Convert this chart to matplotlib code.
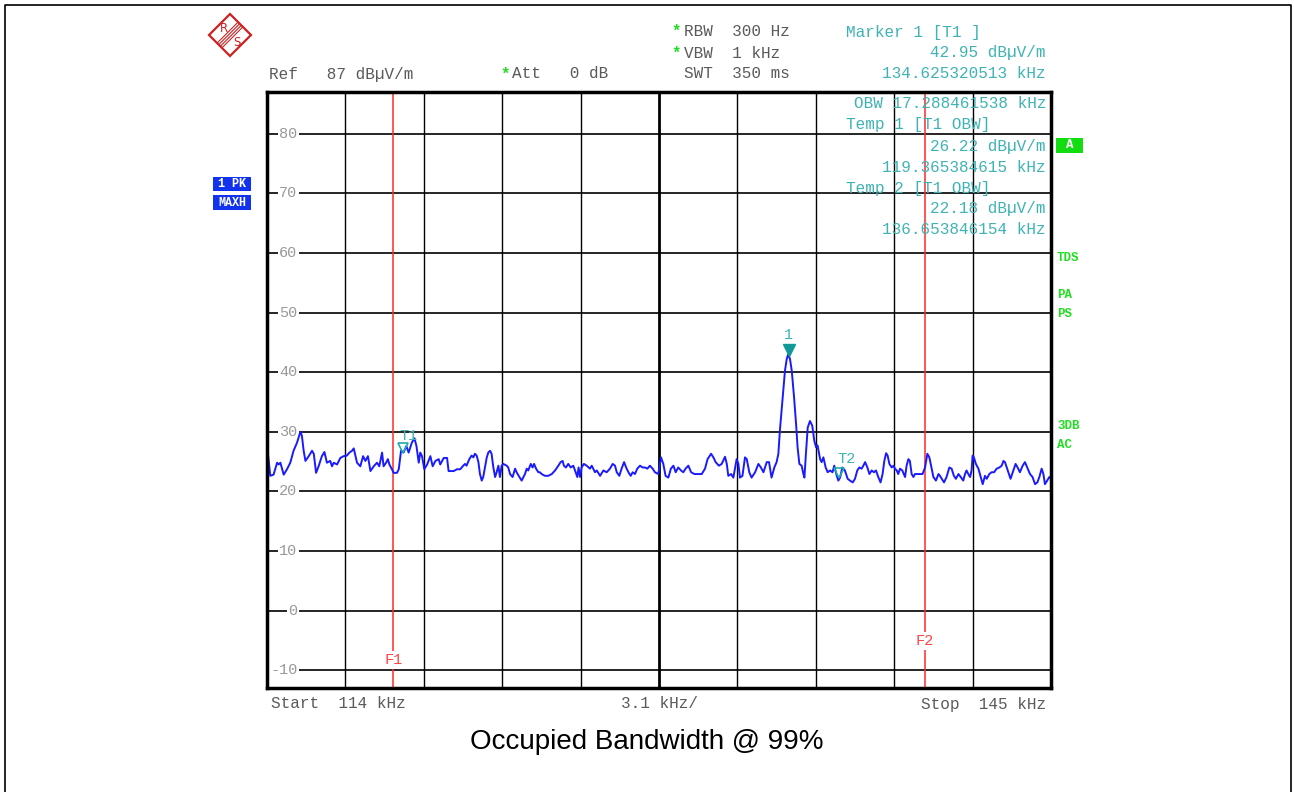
import numpy as np
import matplotlib
matplotlib.use("Agg")
import matplotlib.pyplot as plt
from matplotlib.patches import Polygon, Rectangle
from matplotlib.lines import Line2D

# sweep settings
f_start = 114.0
f_stop = 145.0
ref_level = 87.0
y_bottom = -13.0
y_ticks = [80, 70, 60, 50, 40, 30, 20, 10, 0, -10]

# trace (kHz, dBuV/m)
trace_freq = [
    114.04, 114.13, 114.26, 114.40, 114.46, 114.53, 114.66, 114.79, 114.92, 115.05,
    115.19, 115.32, 115.38, 115.45, 115.52, 115.65, 115.78, 115.85, 115.94, 116.04,
    116.17, 116.27, 116.37, 116.50, 116.57, 116.64, 116.77, 116.90, 117.03, 117.16,
    117.26, 117.36, 117.43, 117.56, 117.69, 117.80, 117.89, 117.99, 118.09, 118.22,
    118.35, 118.44, 118.55, 118.61, 118.71, 118.78, 118.84, 118.94, 119.01, 119.14,
    119.21, 119.30, 119.40, 119.51, 119.60, 119.73, 119.83, 119.91, 120.00, 120.06,
    120.13, 120.22, 120.33, 120.46, 120.55, 120.66, 120.79, 120.85, 120.99, 121.12,
    121.18, 121.38, 121.51, 121.64,
    121.76, 121.83, 121.89, 122.00, 122.09, 122.16, 122.22, 122.29, 122.36, 122.42,
    122.49, 122.55, 122.62, 122.69, 122.75, 122.82, 122.88, 122.95, 123.02, 123.08,
    123.15, 123.21, 123.28, 123.34, 123.48, 123.54, 123.61, 123.71, 123.81, 123.87,
    123.98, 124.07, 124.20, 124.27, 124.33, 124.43, 124.50, 124.56, 124.64, 124.73,
    124.79, 124.86, 124.99, 125.12, 125.26, 125.39, 125.52, 125.61, 125.69, 125.74,
    125.82, 125.91, 126.01, 126.11, 126.18, 126.27, 126.32, 126.38, 126.44, 126.53,
    126.64, 126.77, 126.84, 126.97, 127.04, 127.17, 127.30, 127.43, 127.56, 127.67,
    127.76, 127.83, 127.93, 128.02, 128.12, 128.20, 128.29, 128.38, 128.46, 128.55,
    128.64, 128.75, 128.85, 128.95, 129.04, 129.14, 129.25,
    129.34, 129.47, 129.58, 129.67, 129.76, 129.87, 129.97, 130.07, 130.16, 130.26,
    130.37, 130.46, 130.55, 130.66, 130.77, 130.90, 131.06, 131.19, 131.32, 131.42,
    131.56, 131.65, 131.74, 131.87, 131.98, 132.11, 132.18, 132.24, 132.35, 132.44,
    132.51, 132.57, 132.64, 132.70, 132.80, 132.90, 132.97, 133.07, 133.16, 133.30,
    133.43, 133.53, 133.63, 133.76, 133.85, 133.95, 134.06, 134.15, 134.22, 134.28,
    134.38, 134.48, 134.55, 134.61, 134.68, 134.75, 134.84, 134.92, 134.98, 135.05,
    135.14, 135.21, 135.25, 135.30, 135.38, 135.47, 135.56, 135.64, 135.71, 135.77,
    135.87, 135.93, 136.00, 136.09, 136.17, 136.26, 136.36, 136.43, 136.53, 136.59,
    136.66, 136.75, 136.85, 136.96,
    137.05, 137.16, 137.25, 137.34, 137.42, 137.51, 137.58, 137.65, 137.74, 137.82,
    137.91, 138.00, 138.08, 138.17, 138.26, 138.34, 138.41, 138.48, 138.54, 138.61,
    138.70, 138.77, 138.83, 138.90, 138.96, 139.03, 139.12, 139.23, 139.29, 139.36,
    139.42, 139.49, 139.56, 139.62, 139.71, 139.82, 139.92, 140.02, 140.11, 140.19,
    140.28, 140.35, 140.45, 140.55, 140.61, 140.68, 140.77, 140.87, 140.98, 141.07,
    141.16, 141.24, 141.34, 141.43, 141.53, 141.60, 141.66, 141.73, 141.80, 141.86,
    141.90, 141.95, 142.03, 142.13, 142.22, 142.30, 142.39, 142.46, 142.56, 142.65,
    142.75, 142.85, 142.96, 143.05, 143.12, 143.18, 143.25, 143.31, 143.40, 143.51,
    143.60, 143.68, 143.77, 143.88, 143.97, 144.06, 144.17, 144.27, 144.37, 144.46,
    144.54, 144.63, 144.70, 144.76, 144.85, 144.93, 145.00,
]
trace_level = [
    26.2, 22.6, 22.8, 24.8, 24.5, 24.8, 22.8, 23.7, 24.8, 26.8,
    28.2, 30.0, 29.3, 26.8, 25.1, 25.9, 26.8, 26.3, 23.1, 24.2,
    25.9, 26.6, 24.8, 25.1, 24.2, 24.8, 24.5, 25.6, 25.9, 26.0,
    26.5, 26.8, 27.2, 24.8, 24.2, 25.9, 25.1, 25.9, 23.4, 24.2,
    24.8, 24.2, 26.5, 24.2, 24.8, 25.4, 24.5, 23.7, 23.1, 23.1,
    23.7, 26.8, 26.5, 27.6, 26.5, 28.2, 28.9, 27.6, 24.8, 26.5,
    25.9, 23.7, 24.5, 25.9, 24.2, 25.1, 25.4, 24.5, 25.6, 25.6,
    23.4, 23.4, 23.7, 23.7,
    24.3, 24.6, 24.3, 25.4, 26.0, 25.7, 26.3, 26.0, 24.9, 22.9,
    21.8, 22.4, 24.0, 25.7, 26.5, 26.8, 26.3, 24.0, 22.4, 23.2,
    24.3, 22.4, 24.3, 24.6, 24.3, 24.0, 22.9, 22.4, 23.8, 23.2,
    22.4, 21.8, 22.9, 23.8, 23.5, 24.6, 24.0, 24.6, 23.8, 23.2,
    23.2, 22.9, 22.6, 22.6, 22.9, 23.5, 24.3, 24.9, 25.1, 24.3,
    24.0, 24.6, 24.0, 24.3, 23.5, 22.4, 24.0, 22.4, 24.0, 24.6,
    24.3, 23.8, 24.3, 23.2, 23.5, 22.6, 23.5, 23.2, 23.8, 24.6,
    24.3, 23.2, 22.6, 23.8, 24.9, 24.0, 23.2, 22.6, 23.2, 22.9,
    23.8, 24.3, 24.0, 24.0, 23.8, 24.3, 23.8,
    23.2, 22.9, 25.7, 24.6, 22.6, 22.3, 23.8, 24.3, 23.2, 24.0,
    23.5, 23.2, 23.8, 24.3, 23.2, 22.9, 22.9, 22.9, 23.8, 25.4,
    26.3, 25.7, 24.9, 24.3, 24.6, 25.8, 24.6, 22.6, 22.9, 22.3,
    24.0, 25.4, 24.6, 22.3, 22.6, 25.7, 25.4, 23.2, 22.3, 23.2,
    24.6, 24.0, 23.2, 24.9, 24.9, 22.3, 24.0, 24.9, 26.3, 30.2,
    35.2, 40.2, 42.2, 43.0, 42.2, 40.2, 35.8, 31.3, 27.4, 24.6,
    24.3, 22.9, 22.3, 25.7, 30.7, 31.8, 31.0, 28.5, 27.4, 27.7,
    25.4, 24.9, 25.7, 24.0, 23.2, 23.5, 23.2, 24.3, 22.6, 21.8,
    22.3, 24.0, 23.5, 22.1,
    21.8, 21.5, 22.1, 23.5, 24.0, 23.8, 24.3, 24.9, 24.0, 22.9,
    23.5, 23.2, 23.5, 22.4, 21.5, 22.9, 25.1, 26.4, 26.0, 24.6,
    24.0, 24.3, 23.8, 23.5, 22.9, 23.8, 23.5, 22.4, 24.3, 25.4,
    25.1, 22.9, 22.4, 22.9, 22.9, 22.9, 22.9, 24.0, 26.3, 25.7,
    23.8, 22.4, 21.8, 22.9, 22.6, 22.1, 21.5, 22.4, 24.0, 23.8,
    22.6, 22.1, 22.9, 22.4, 21.8, 22.9, 23.5, 22.9, 22.4, 23.5,
    26.0, 25.7, 24.6, 23.8, 22.4, 21.2, 22.6, 22.1, 22.9, 23.2,
    23.2, 23.8, 24.0, 24.3, 25.1, 24.9, 24.0, 23.2, 22.1, 23.5,
    24.6, 24.0, 23.2, 24.3, 24.9, 24.0, 22.9, 22.4, 21.2, 21.5,
    22.4, 23.8, 22.9, 21.2, 21.8, 22.4, 22.1,
]

# markers and OBW lines
m1_freq, m1_level = 134.625320513, 42.95
t1_freq, t1_level = 119.365384615, 26.22
t2_freq, t2_level = 136.653846154, 22.18
f1_freq = 119.0
f2_freq = 140.0

W, H = 1294, 792
MONO = "Liberation Mono"
GRAY = "#5a5a5a"
TEAL = "#3fb3b3"
GREEN = "#22dd22"
RED = "#ff2a2a"
LOGO = "#cc2222"


def fx(px):
    return px / W


def fy(py):
    return 1 - py / H


fig = plt.figure(figsize=(W / 100, H / 100), dpi=100)
ax = fig.add_axes([fx(267), fy(688), fx(1051) - fx(267), fy(92) - fy(688)])
ax.set_xlim(f_start, f_stop)
ax.set_ylim(y_bottom, ref_level)

# graticule
span = f_stop - f_start
for i in range(1, 10):
    ax.axvline(f_start + span * i / 10, color="black", lw=2.0 if i == 5 else 1.0, zorder=1)
for v in y_ticks:
    ax.axhline(v, color="black", lw=1.2, zorder=1)
    ax.text(0.039, v, str(v), transform=ax.get_yaxis_transform(), ha="right", va="center",
            fontsize=11, family=MONO, color="#999999", zorder=2,
            bbox=dict(facecolor="white", edgecolor="none", pad=1.0))
ax.set_xticks([])
ax.set_yticks([])
for s in ax.spines.values():
    s.set_linewidth(2.5)
    s.set_zorder(10)

# OBW limit lines
for f, lab, lv in [(f1_freq, "F1", -8.3), (f2_freq, "F2", -5.1)]:
    ax.axvline(f, color=RED, lw=1.1, zorder=3)
    ax.text(f, lv, lab, ha="center", va="center", fontsize=11, family=MONO, color="#ff4444",
            zorder=4, bbox=dict(facecolor="white", edgecolor="none", pad=1.5))

# trace
ax.plot(trace_freq, trace_level, color="#1a1aff", lw=1.4, zorder=5)

# markers
ax.plot([m1_freq], [m1_level + 0.8], marker="v", ms=8, color="#119999", zorder=6)
ax.text(m1_freq, m1_level + 3.2, "1", ha="center", va="center", fontsize=11,
        family=MONO, color=TEAL, zorder=6)
ax.plot([t1_freq], [t1_level + 1.0], marker="v", ms=7, mfc="none", mec="#22aaaa", mew=1.2, zorder=6)
ax.text(t1_freq + 0.22, t1_level + 3.1, "T1", ha="center", va="center", fontsize=11,
        family=MONO, color=TEAL, zorder=6)
ax.plot([t2_freq - 0.05], [t2_level + 0.9], marker="v", ms=7, mfc="none", mec="#22aaaa", mew=1.2, zorder=6)
ax.text(t2_freq + 0.25, t2_level + 3.3, "T2", ha="center", va="center", fontsize=11,
        family=MONO, color=TEAL, zorder=6)

# header texts
fs = 11.5
fig.text(fx(269), fy(74), "Ref   87 dB\u00b5V/m", fontsize=fs, family=MONO, color=GRAY, va="center")
fig.text(fx(500), fy(74), "*", fontsize=fs, family=MONO, color=GREEN, va="center", weight="bold")
fig.text(fx(512), fy(74), "Att   0 dB", fontsize=fs, family=MONO, color=GRAY, va="center")
for py, txt, star in [(31, "RBW  300 Hz", True), (53, "VBW  1 kHz", True), (74, "SWT  350 ms", False)]:
    if star:
        fig.text(fx(671), fy(py), "*", fontsize=fs, family=MONO, color=GREEN, va="center", weight="bold")
    fig.text(fx(684), fy(py), txt, fontsize=fs, family=MONO, color=GRAY, va="center")

right_x = fx(1046)
left_x = fx(846)
marker_lines = [
    (32, "Marker 1 [T1 ]", "left"),
    (53, "%.2f dB\u00b5V/m" % m1_level, "right"),
    (74, "%.9f kHz" % m1_freq, "right"),
    (104, "OBW 17.288461538 kHz", "right"),
    (125, "Temp 1 [T1 OBW]", "left"),
    (146, "%.2f dB\u00b5V/m" % t1_level, "right"),
    (167, "%.9f kHz" % t1_freq, "right"),
    (188, "Temp 2 [T1 OBW]", "left"),
    (209, "%.2f dB\u00b5V/m" % t2_level, "right"),
    (230, "%.9f kHz" % t2_freq, "right"),
]
for py, txt, al in marker_lines:
    fig.text(left_x if al == "left" else right_x, fy(py), txt, fontsize=fs, family=MONO,
             color=TEAL, va="center", ha=al, zorder=20)

# bottom labels
fig.text(fx(271), fy(704), "Start  114 kHz", fontsize=fs, family=MONO, color=GRAY, va="center")
fig.text(fx(660), fy(704), "3.1 kHz/", fontsize=fs, family=MONO, color=GRAY, va="center", ha="center")
fig.text(right_x, fy(704), "Stop  145 kHz", fontsize=fs, family=MONO, color=GRAY, va="center", ha="right")

fig.text(0.5, fy(742), "Occupied Bandwidth @ 99%", fontsize=20, family="Liberation Sans",
         color="black", ha="center", va="center")

# left status boxes
for py0, py1, txt in [(177, 191, "1 PK"), (195, 210, "MAXH")]:
    fig.patches.append(Rectangle((fx(213), fy(py1)), fx(251) - fx(213), fy(py0) - fy(py1),
                                 transform=fig.transFigure, facecolor="#1133ee", edgecolor="none"))
    fig.text(fx(232), fy((py0 + py1) / 2), txt, fontsize=8.5, family=MONO, color="white",
             weight="bold", ha="center", va="center")

# right status labels
fig.patches.append(Rectangle((fx(1056), fy(153)), fx(1083) - fx(1056), fy(138) - fy(153),
                             transform=fig.transFigure, facecolor="#11dd11", edgecolor="none"))
fig.text(fx(1069.5), fy(145.5), "A", fontsize=9, family=MONO, color="white", weight="bold",
         ha="center", va="center")
for py, txt in [(258, "TDS"), (295, "PA"), (314, "PS"), (426, "3DB"), (445, "AC")]:
    fig.text(fx(1057), fy(py), txt, fontsize=9, family=MONO, color=GREEN, weight="bold", va="center")

# R&S logo: diamond, "/" stripes, R upper-left, S lower-right
cx, cy, r = 230, 35, 21
diamond = [(fx(cx), fy(cy - r)), (fx(cx + r), fy(cy)), (fx(cx), fy(cy + r)), (fx(cx - r), fy(cy))]
fig.patches.append(Polygon(diamond, closed=True, transform=fig.transFigure, facecolor="white",
                           edgecolor=LOGO, lw=1.6, zorder=1))
for d in (-2.4, -0.8, 0.8, 2.4):
    fig.lines.append(Line2D([fx(cx + 10 + d), fx(cx - 10 + d)], [fy(cy - 10 + d), fy(cy + 10 + d)],
                            transform=fig.transFigure, color=LOGO, lw=0.8, zorder=2))
fig.text(fx(cx - 6.5), fy(cy - 6.5), "R", fontsize=8.5, color=LOGO, ha="center", va="center", zorder=3)
fig.text(fx(cx + 6.5), fy(cy + 7), "S", fontsize=8.5, color=LOGO, ha="center", va="center", zorder=3)

# outer frame
fig.lines.append(Line2D([fx(5), fx(5), fx(1291), fx(1291)], [fy(800), fy(5), fy(5), fy(800)],
                        transform=fig.transFigure, color="black", lw=1.2))

fig.savefig("out.png", dpi=100)
